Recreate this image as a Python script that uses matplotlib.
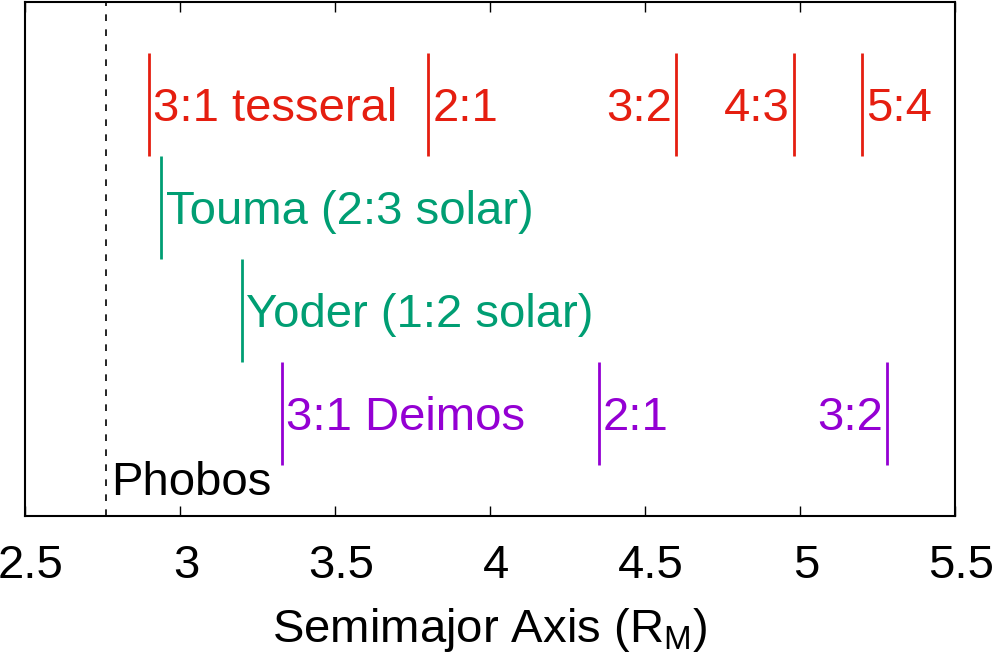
import matplotlib
matplotlib.use("Agg")
import matplotlib.pyplot as plt
import matplotlib.transforms as mtransforms

plt.rcParams['font.family'] = ['Liberation Sans', 'DejaVu Sans']
plt.rcParams['mathtext.default'] = 'regular'

# resonance locations in Mars radii
tesseral_labels = ['3:1 tesseral', '2:1', '3:2', '4:3', '5:4']
tesseral_a = [2.90, 3.80, 4.60, 4.98, 5.20]
solar_labels = ['Touma (2:3 solar)', 'Yoder (1:2 solar)']
solar_a = [2.94, 3.20]
deimos_labels = ['3:1 Deimos', '2:1', '3:2']
deimos_a = [3.33, 4.35, 5.28]
phobos_a = 2.76

red = '#E51E10'
green = '#009E73'
purple = '#9400D3'
fs = 34

fig = plt.figure(figsize=(9.93, 6.59), dpi=100)
ax = fig.add_axes([25 / 993, 1 - 516 / 659, 930 / 993, 514.5 / 659])
ax.set_xlim(2.5, 5.5)
ax.set_ylim(0, 5)

def mark(a, row, label, color, side='right'):
    ax.plot([a, a], [row - 0.5, row + 0.5], color=color, lw=2, solid_capstyle='butt')
    dx = 3 if side == 'right' else -3
    ax.annotate(label, (a, row), xytext=(dx, -12), textcoords='offset points',
                ha='left' if side == 'right' else 'right', va='baseline',
                color=color, fontsize=fs)

# rows: tesseral on top, then Touma, Yoder, Deimos
for lab, a in zip(tesseral_labels, tesseral_a):
    mark(a, 4.0, lab, red, 'left' if lab in ('3:2', '4:3') else 'right')
mark(solar_a[0], 3.0, solar_labels[0], green)
mark(solar_a[1], 2.0, solar_labels[1], green)
for lab, a in zip(deimos_labels, deimos_a):
    mark(a, 1.0, lab, purple, 'left' if lab == '3:2' else 'right')

ax.axvline(phobos_a, color='black', lw=1.2, linestyle=(0, (4, 5)))
ax.annotate('Phobos', (phobos_a, 0.2), xytext=(4, 0), textcoords='offset points',
            ha='left', va='baseline', fontsize=fs, color='black')

ax.set_xticks([2.5, 3, 3.5, 4, 4.5, 5, 5.5])
ax.set_xticklabels(['2.5', '3', '3.5', '4', '4.5', '5', '5.5'])
ax.set_yticks([])
ax.tick_params(axis='x', direction='in', length=7, width=1, top=True,
               labelsize=fs, pad=20)
shift = mtransforms.ScaledTranslation(6 / 100, 0, fig.dpi_scale_trans)
for lbl in ax.get_xticklabels():
    lbl.set_transform(lbl.get_transform() + shift)
for sp in ax.spines.values():
    sp.set_linewidth(1.5)

ax.set_xlabel('Semimajor Axis (R$_{M}$)', fontsize=fs, labelpad=13)

fig.savefig('out.png', dpi=100)
